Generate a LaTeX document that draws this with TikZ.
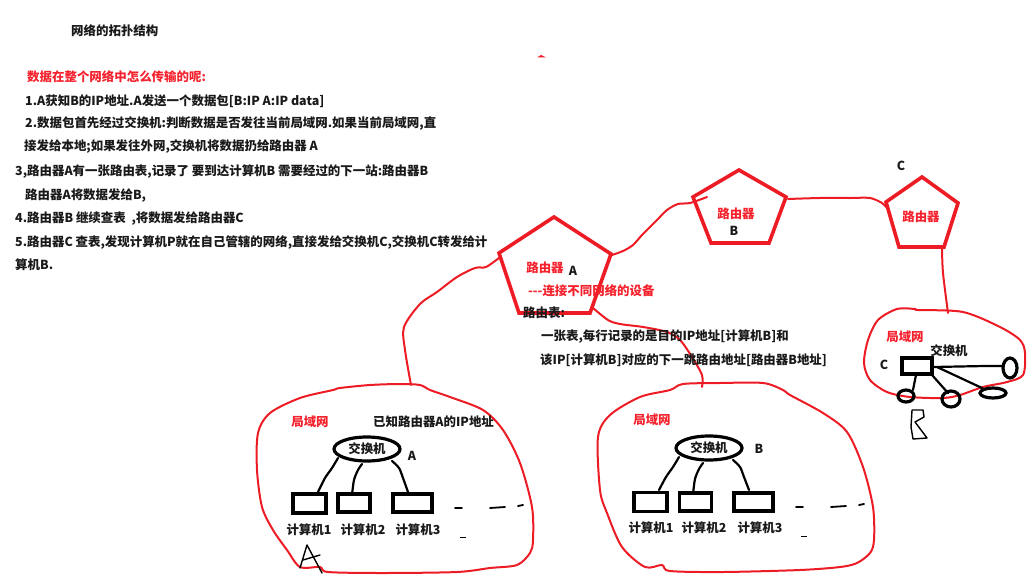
\documentclass[tikz,border=0pt]{standalone}
\usepackage{fontspec}
\setmainfont{Noto Sans CJK SC}[Ligatures=NoCommon]
\definecolor{pred}{HTML}{ED1C24}
\definecolor{tred}{HTML}{F5222D}
\tikzset{
  txt/.style={anchor=west,inner sep=0pt,font=\fontsize{12.45}{14}\selectfont\bfseries,text=black!90},
  ctr/.style={anchor=center,inner sep=0pt,font=\fontsize{12.45}{14}\selectfont\bfseries,text=black!90},
  rtxt/.style={txt,text=tred},
  rctr/.style={ctr,text=tred},
  router/.style={draw=pred,line width=3.6pt,line join=miter},
  hand/.style={draw=pred,line width=2pt,line join=round,line cap=round},
  wire/.style={draw=black,line width=2.2pt,line join=round,line cap=round},
  pc/.style={draw=black,line width=3.4pt,fill=white,inner sep=0pt},
  swc/.style={draw=black,line width=3.2pt},
  thinpen/.style={draw=black,line width=1.4pt,line join=round,line cap=round},
  dashmark/.style={draw=black,line width=1.8pt,line cap=round}
}
\begin{document}
\begin{tikzpicture}[x=1pt,y=-1pt]
\useasboundingbox (0,0) rectangle (1032,578);
% left text
\node[txt] (title) at (71,31) {网络的拓扑结构};
\node[rtxt] (head) at (27,77) {数据在整个网络中怎么传输的呢:};
\node[txt] (l1) at (25,101) {1.A获知B的IP地址.A发送一个数据包[B:IP A:IP data]};
\node[txt] (l2) at (25,124) {2.数据包首先经过交换机:判断数据是否发往当前局域网.如果当前局域网,直};
\node[txt] (l2b) at (24,147) {接发给本地;如果发往外网,交换机将数据扔给路由器 A};
\node[txt] (l3) at (15,172) {3,路由器A有一张路由表,记录了 要到达计算机B 需要经过的下一站:路由器B};
\node[txt] (l3b) at (25,196) {路由器A将数据发给B,};
\node[txt] (l4) at (15,219) {4.路由器B 继续查表\ \ ,将数据发给路由器C};
\node[txt] (l5) at (15,243) {5.路由器C 查表,发现计算机P就在自己管辖的网络,直接发给交换机C,交换机C转发给计};
\node[txt] (l5b) at (15,265) {算机B.};
% stray mark
\fill[pred] (537,57.5) -- (541,55) -- (546,57.5) -- cycle;
% connector ends
\coordinate (aR) at (612,255);
\coordinate (bL) at (707,197);
\coordinate (bR) at (788,199);
\coordinate (cL) at (886,207);
\coordinate (cB) at (942,248);
\coordinate (lanCT) at (948,313);
\coordinate (aL) at (499,258);
\coordinate (lanAT) at (411,385);
\coordinate (aB) at (593,308);
\coordinate (lanBT) at (702,387);
% connectors
\draw[hand] plot[smooth,tension=.5] coordinates {(aR) (623,251) (633,245) (642,235) (657,220) (667,210) (678,204) (690,203) (bL)};
\draw[hand] plot[smooth,tension=.5] coordinates {(bR) (820,198) (850,198) (870,198) (882,203) (cL)};
\draw[hand] plot[smooth,tension=.5] coordinates {(cB) (943,273) (lanCT)};
\draw[hand] plot[smooth,tension=.5] coordinates {(aL) (486,267) (475,268) (457,277) (437,292) (420,304) (404,327) (405,350) (lanAT)};
\draw[hand] plot[smooth,tension=.5] coordinates {(aB) (608,320) (620,324) (643,327) (667,332) (680,340) (692,357) (702,375) (lanBT)};
% LANs
\draw[hand] plot[smooth cycle,tension=.5] coordinates {(340,388) (333,390) (300,398) (270,413) (258,433) (257,470) (262,507) (273,530) (287,550) (300,567) (320,567) (328,572) (383,573) (457,572) (490,568) (517,565) (530,553) (533,540) (532,507) (520,463) (503,430) (483,410) (450,397) (430,390) (420,385) (400,384) (370,385)};
\draw[hand] plot[smooth cycle,tension=.5] coordinates {(670,390) (640,397) (610,415) (598,437) (600,490) (607,513) (622,547) (645,567) (662,565) (670,571) (723,572) (800,570) (840,567) (857,563) (870,553) (874,540) (873,507) (863,467) (847,432) (823,413) (790,395) (783,390) (763,383) (720,383) (683,384)};
\draw[hand] plot[smooth cycle,tension=.5] coordinates {(915,309) (897,309) (878,320) (868,340) (864,363) (870,380) (887,392) (910,397) (943,398) (960,395) (983,387) (1007,382) (1023,375) (1025,353) (1020,340) (1000,327) (963,312) (918,310)};
% routers
\draw[router] (554,217) -- (611,254) -- (590,313) -- (519,313) -- (499,253) -- cycle;
\draw[router] (739,170) -- (786,197) -- (769,243) -- (711,243) -- (693,197) -- cycle;
\draw[router] (922,177) -- (958,203) -- (944,247) -- (899,247) -- (886,202) -- cycle;
\node[rctr] (ra) at (545,268) {路由器};
\node[ctr] (raL) at (573,271) {A};
\node[rtxt] (rnote) at (528,291) {{-}{-}{-}连接不同网络的设备};
\node[txt] (rt) at (523,313) {路由表:};
\node[txt] (rt1) at (541,337) {一张表,每行记录的是目的IP地址[计算机B]和};
\node[txt] (rt2) at (540,360) {该IP[计算机B]对应的下一跳路由地址[路由器B地址]};
\node[rctr] (rb) at (736,214) {路由器};
\node[ctr] (rbL) at (734,231) {B};
\node[rctr] (rc) at (921,217) {路由器};
\node[ctr] (rcL) at (901,166) {C};
% LAN A contents
\node[rctr] (lanA) at (310,422) {局域网};
\node[txt] (known) at (373,422) {已知路由器A的IP地址};
\draw[swc] (367,449) ellipse [x radius=33,y radius=12];
\node[ctr] (swA) at (367,449) {交换机};
\node[ctr] (swAL) at (412,456) {A};
\coordinate (swA1) at (338,458);
\coordinate (swA2) at (362,464);
\coordinate (swA3) at (392,461);
\coordinate (a1t) at (318,492);
\coordinate (a2t) at (352,495);
\coordinate (a3t) at (408,492);
\node[pc,minimum width=33pt,minimum height=19pt] (a1) at (309.5,503.5) {};
\node[pc,minimum width=32pt,minimum height=18pt] (a2) at (354,503) {};
\node[pc,minimum width=39pt,minimum height=18pt] (a3) at (412.5,503) {};
\draw[wire] plot[smooth,tension=.5] coordinates {(swA1) (332,468) (325,478) (a1t)};
\draw[wire] plot[smooth,tension=.5] coordinates {(swA2) (358,470) (354,480) (a2t)};
\draw[wire] plot[smooth,tension=.5] coordinates {(swA3) (399,468) (403,478) (a3t)};
\node[ctr] (a1l) at (309,530) {计算机1};
\node[ctr] (a2l) at (363,530) {计算机2};
\node[ctr] (a3l) at (418,530) {计算机3};
\draw[dashmark] (455,508) -- (462,508);
\draw[dashmark] (490,508) -- (505,507);
\draw[dashmark] (518,506) -- (523,505);
\draw[draw=black,line width=.8pt] (460,537) -- (466,537);
\draw[thinpen] (300,568) -- (307,545) -- (322,573);
\draw[thinpen] (303,560) -- (320,555);
% LAN B contents
\node[rctr] (lanB) at (652,420) {局域网};
\draw[swc] (709,448) ellipse [x radius=33,y radius=12];
\node[ctr] (swB) at (709,448) {交换机};
\node[ctr] (swBL) at (759,449) {B};
\coordinate (swB1) at (679,457);
\coordinate (swB2) at (703,463);
\coordinate (swB3) at (733,460);
\coordinate (b1t) at (659,490);
\coordinate (b2t) at (693,494);
\coordinate (b3t) at (749,490);
\node[pc,minimum width=33pt,minimum height=19pt] (b1) at (650.5,502) {};
\node[pc,minimum width=32pt,minimum height=18pt] (b2) at (695.5,502) {};
\node[pc,minimum width=39pt,minimum height=18pt] (b3) at (753.5,502) {};
\draw[wire] plot[smooth,tension=.5] coordinates {(swB1) (673,467) (666,477) (b1t)};
\draw[wire] plot[smooth,tension=.5] coordinates {(swB2) (699,469) (695,479) (b2t)};
\draw[wire] plot[smooth,tension=.5] coordinates {(swB3) (740,467) (744,477) (b3t)};
\node[ctr] (b1l) at (651,528) {计算机1};
\node[ctr] (b2l) at (704,528) {计算机2};
\node[ctr] (b3l) at (760,528) {计算机3};
\draw[dashmark] (796,507) -- (803,507);
\draw[dashmark] (831,507) -- (846,506);
\draw[dashmark] (859,505) -- (864,504);
\draw[draw=black,line width=.8pt] (801,536) -- (807,536);
% LAN C contents
\node[rctr] (lanC) at (905,337) {局域网};
\node[ctr] (cC) at (884,365) {C};
\node[ctr] (swC) at (949,351) {交换机};
\draw[swc] (902,358) rectangle (932,374);
\coordinate (c0a) at (933,367);
\coordinate (c0b) at (937,367);
\coordinate (c0c) at (932,375);
\coordinate (c0d) at (916,375);
\draw[swc] (1010,368) ellipse [x radius=7,y radius=10];
\draw[swc] (993,393) ellipse [x radius=13,y radius=5];
\draw[swc] (951,399) ellipse [x radius=9,y radius=8];
\draw[swc] (906,396) ellipse [x radius=8,y radius=6];
\coordinate (c1) at (1003,366);
\coordinate (c2) at (982,388);
\coordinate (c3) at (948,393);
\coordinate (c4) at (913,390);
\draw[wire] (c0a) -- (985,366) -- (c1);
\draw[wire] (c0b) -- (c2);
\draw[wire] (c0c) -- (c3);
\draw[wire] (c0d) -- (c4);
\draw[thinpen] (912,410) -- (923,410) -- (924,417) -- (915,422) -- (927,438) -- (913,439) -- (911,427) -- cycle;
\end{tikzpicture}
\end{document}
